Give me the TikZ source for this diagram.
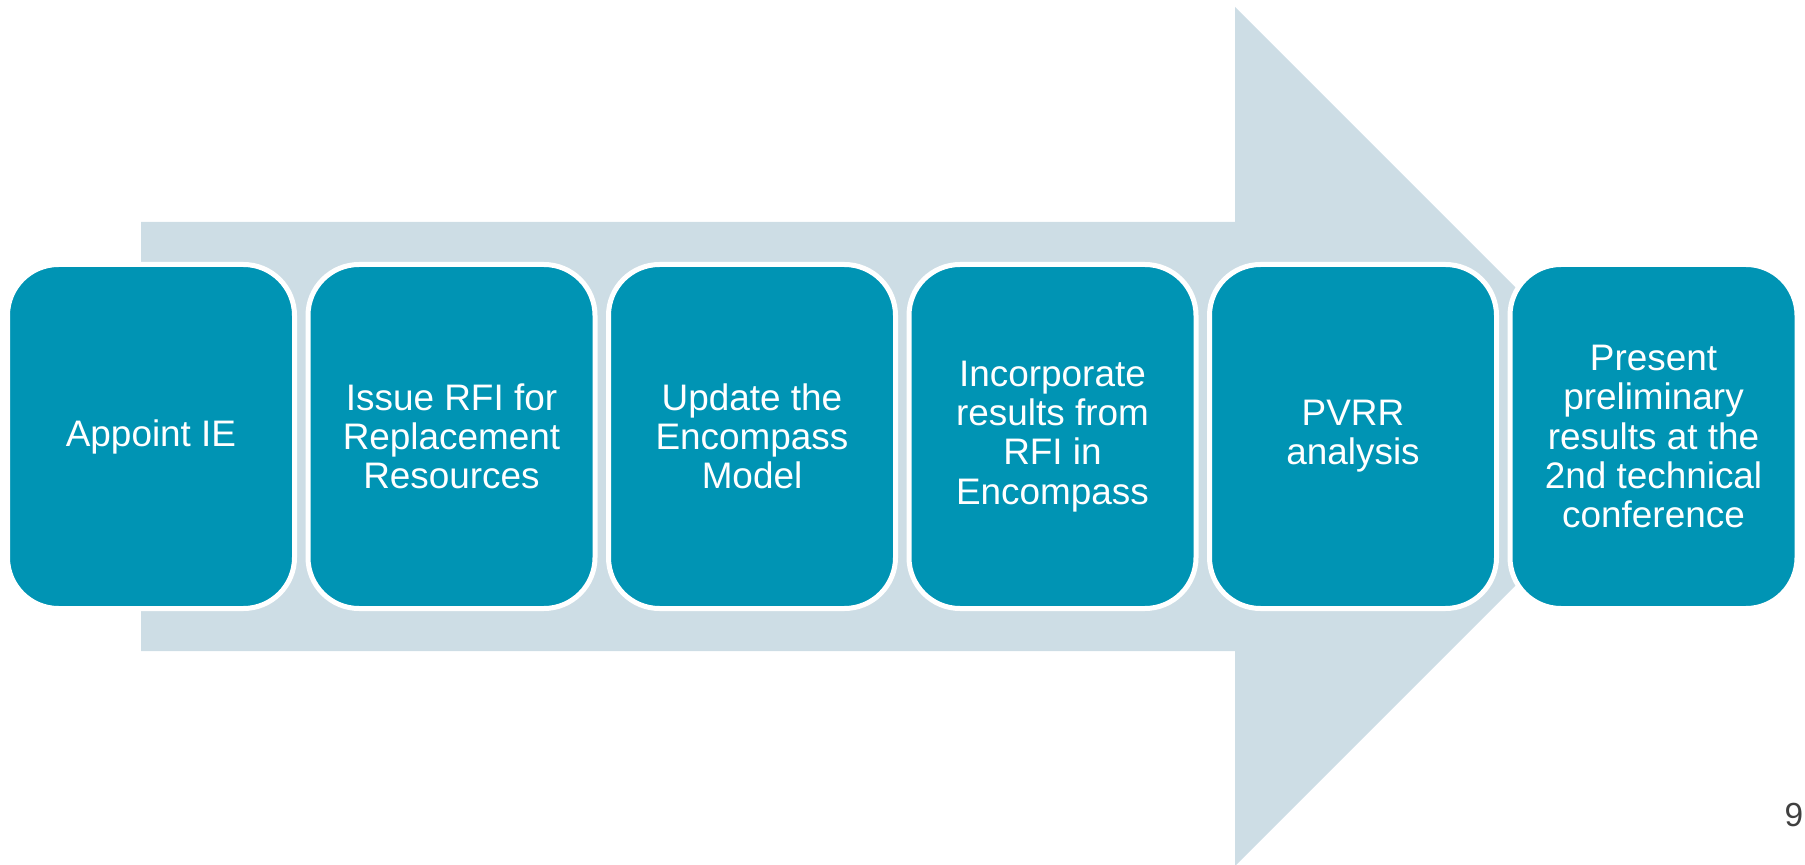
\documentclass[tikz,border=0pt]{standalone}
\usepackage{fontspec}
\setmainfont{Liberation Sans}
\usetikzlibrary{positioning}
\definecolor{stagefill}{HTML}{0094B4}
\definecolor{arrowfill}{HTML}{CDDDE5}
\definecolor{pagegray}{HTML}{404040}
\begin{document}
\begin{tikzpicture}[thick,text badly centered]
  \useasboundingbox (0,0) rectangle (36.1,17.28);

  % Background arrow
  \fill[arrowfill] (2.82,4.26) -- (2.82,12.84) -- (24.7,12.84) -- (24.7,17.14)
    -- (33.29,8.55) -- (24.7,-0.04) -- (24.7,4.26) -- cycle;

  % Process stages
  \begin{scope}[every node/.style={draw=white,line width=0.1cm,fill=stagefill,
      rounded corners=1.02cm,minimum width=5.74cm,minimum height=6.88cm,
      inner sep=0pt,align=center,text=white,font=\fontsize{21}{22.3}\selectfont}]
    \node (appoint) at (3.02,8.55) {Appoint IE};
    \node (issue) at (appoint.east) [right=0.17cm] {Issue RFI for\\Replacement\\Resources};
    \node (update) at (issue.east) [right=0.17cm] {Update the\\Encompass\\Model};
    \node (incorp) at (update.east) [right=0.17cm] {Incorporate\\results from\\RFI in\\Encompass};
    \node (pvrr) at (incorp.east) [right=0.17cm] {PVRR\\analysis};
    \node (present) at (pvrr.east) [right=0.17cm] {Present\\preliminary\\results at the\\2nd technical\\conference};
  \end{scope}

  % Page number
  \node[text=pagegray,font=\fontsize{19}{20}\selectfont,anchor=base east,inner sep=0pt] (pagenum) at (36.08,0.76) {9};

\end{tikzpicture}
\end{document}
